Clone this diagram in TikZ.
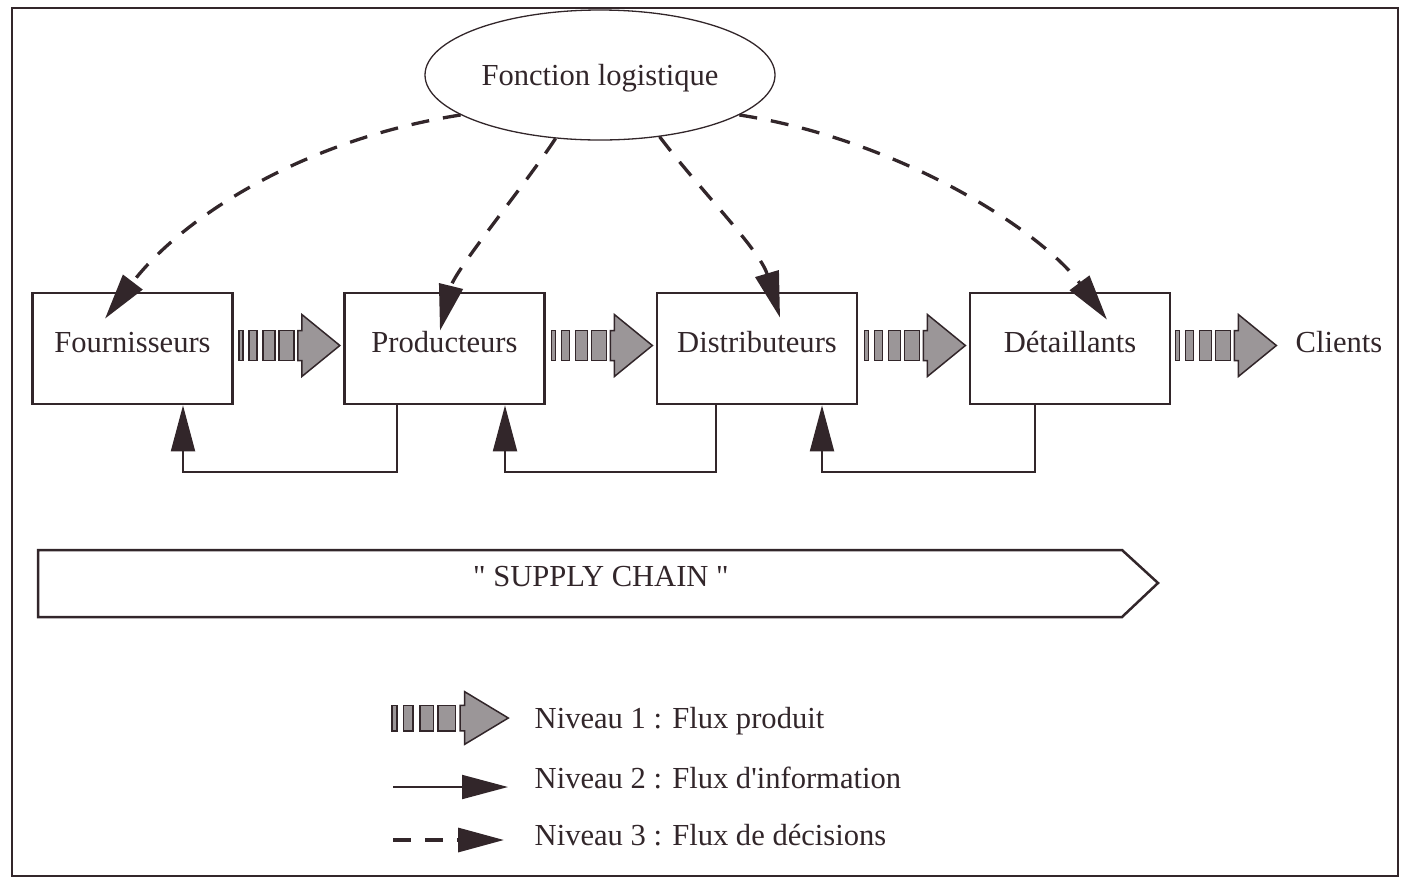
\documentclass[tikz,border=0pt]{standalone}
\usepackage{fontspec}
\setmainfont{Liberation Serif}
\usetikzlibrary{shapes,arrows.meta,positioning,calc}
\definecolor{encre}{RGB}{50,38,42}
\definecolor{trame}{RGB}{155,150,152}

\begin{document}
\begin{tikzpicture}[every node/.style={font=\fontsize{8.7pt}{10pt}\selectfont, text=encre}]
    % Define styles
    \tikzset{
        boite/.style={draw=encre, line width=0.27mm, rectangle, minimum height=1.11cm, minimum width=2cm, inner sep=0, text height=2.1mm, text depth=1.3mm},
        nuage/.style={draw=encre, line width=0.13mm, ellipse, minimum width=3.5cm, minimum height=1.3cm, inner sep=0, text height=2mm, text depth=0mm},
        pointe/.style={-{Triangle[length=4.6mm, width=2.4mm]}},
        info/.style={pointe, encre, line width=0.2mm},
        decision/.style={pointe, encre, line width=0.33mm, dash pattern=on 1.8mm off 1.4mm},
        produit/.style={draw=encre, line width=0.15mm, fill=trame},
        cadre/.style={draw=encre, line width=0.22mm},
        legende/.style={anchor=base west, inner sep=0},
        fluxproduit/.pic={
            \filldraw[produit] (0.01,-0.15) rectangle (0.05,0.15);
            \filldraw[produit] (0.11,-0.15) rectangle (0.19,0.15);
            \filldraw[produit] (0.25,-0.15) rectangle (0.37,0.15);
            \filldraw[produit] (0.41,-0.15) rectangle (0.56,0.15);
            \filldraw[produit] (0.60,0.15) -- (0.64,0.15) -- (0.64,0.31) -- (1.02,0) -- (0.64,-0.31) -- (0.64,-0.15) -- (0.60,-0.15) -- cycle;
        }
    }
    \useasboundingbox (0,0) rectangle (14.03,8.79);

    % Outer frame
    \draw[cadre] (0.12,0.03) rectangle (13.98,8.71);

    % Place nodes
    \node[nuage] (fonction) at (6.00,8.04) {Fonction logistique};
    \node[boite] (four) at (1.325,5.305) {Fournisseurs};
    \node[boite] (prod) at (4.445,5.305) {Producteurs};
    \node[boite] (dist) at (7.57,5.305) {Distributeurs};
    \node[boite] (det) at (10.70,5.305) {Détaillants};
    \node[inner sep=0, text height=2.1mm, text depth=1.3mm] (clients) at (13.39,5.305) {Clients};

    % Product flows (level 1)
    \pic at ([shift={(0.04,0.03)}]four.east) {fluxproduit};
    \pic at ([shift={(0.045,0.03)}]prod.east) {fluxproduit};
    \pic at ([shift={(0.05,0.03)}]dist.east) {fluxproduit};
    \pic at ([shift={(0.03,0.03)}]det.east) {fluxproduit};

    % Information flows (level 2)
    \draw[info] ([xshift=-4.75mm]prod.south) -- ++(0,-0.67) -| ([xshift=5.05mm]four.south);
    \draw[info] ([xshift=-4.1mm]dist.south) -- ++(0,-0.67) -| ([xshift=6.05mm]prod.south);
    \draw[info] ([xshift=-3.5mm]det.south) -- ++(0,-0.67) -| ([xshift=6.5mm]dist.south);

    % Decision flows (level 3)
    \draw[decision] (fonction.196) .. controls (3.00,7.39) and (1.80,6.59) .. ([shift={(-0.275,-0.27)}]four.north);
    \draw[decision] (fonction.235) .. controls (5.25,6.94) and (4.55,6.09) .. ([shift={(-0.045,-0.39)}]prod.north);
    \draw[decision] (fonction.314) .. controls (7.00,6.89) and (7.60,6.29) .. ([shift={(0.23,-0.26)}]dist.north);
    \draw[decision] (fonction.344) .. controls (9.00,7.39) and (10.40,6.49) .. ([shift={(0.37,-0.28)}]det.north);

    % Supply chain arrow
    \draw[encre, line width=0.25mm] (0.38,3.29) -- (11.22,3.29) -- (11.58,2.96) -- (11.22,2.62) -- (0.38,2.62) -- cycle;
    \node (supply) at (6.01,3.02) {\textquotedbl{} SUPPLY CHAIN \textquotedbl};

    % Legend
    \pic[xscale=1.15, yscale=0.85] at (3.91,1.61) {fluxproduit};
    \coordinate (l2a) at (3.93,0.92);
    \coordinate (l2b) at (5.08,0.92);
    \draw[info] (l2a) -- (l2b);
    \coordinate (l3a) at (3.93,0.39);
    \coordinate (l3b) at (5.04,0.39);
    \draw[decision] (l3a) -- (l3b);
    \node[legende] (niv1) at (5.34,1.51) {Niveau 1 : Flux produit};
    \node[legende] (niv2) at (5.34,0.91) {Niveau 2 : Flux d\textquotesingle{}information};
    \node[legende] (niv3) at (5.34,0.34) {Niveau 3 : Flux de décisions};
\end{tikzpicture}
\end{document}
